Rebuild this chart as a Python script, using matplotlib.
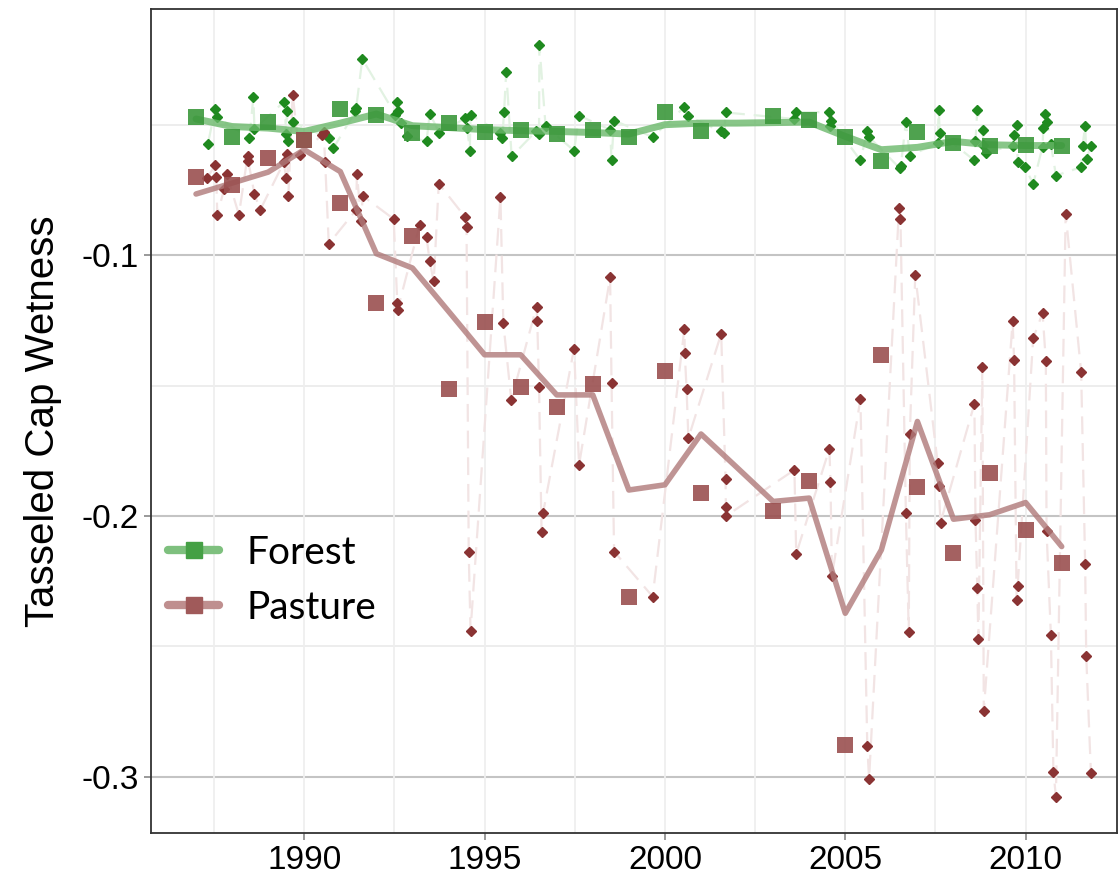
import numpy as np
import matplotlib
matplotlib.use("Agg")
import matplotlib.pyplot as plt
from matplotlib.lines import Line2D

plt.rcParams['axes.unicode_minus'] = False
plt.rcParams['font.family'] = ['Liberation Sans', 'DejaVu Sans']

# annual values
years = np.arange(1987, 2012)
forest_mean = [-0.0469, -0.0547, -0.0486, -0.0556, -0.0438, -0.0462, -0.0528, -0.0490, -0.0526,
               -0.0517, -0.0533, -0.0517, -0.0545, -0.0451, -0.0524, np.nan, -0.0464, -0.0479,
               -0.0547, -0.0636, -0.0526, -0.0569, -0.0578, -0.0575, -0.0578]
forest_smooth = [-0.0476, -0.0505, -0.0511, -0.0524, -0.0492, -0.0457, -0.0502, -0.0509, -0.0517,
                 -0.0521, -0.0524, -0.0528, -0.0534, -0.0498, -0.0492, -0.0492, -0.0490, -0.0488,
                 -0.0543, -0.0594, -0.0585, -0.0562, -0.0575, -0.0578, -0.0578]
pasture_mean = [-0.0699, -0.0729, -0.0626, -0.0556, -0.0797, -0.1183, -0.0927, -0.1513, -0.1257,
                -0.1503, -0.1583, -0.1493, -0.2309, -0.1445, -0.1912, np.nan, -0.1980, -0.1865,
                -0.2878, -0.1381, -0.1887, -0.2142, -0.1833, -0.2053, -0.2181]
pasture_smooth = [-0.0764, -0.0722, -0.0680, -0.0594, -0.0678, -0.0993, -0.1048, -0.1214, -0.1381,
                  -0.1381, -0.1535, -0.1535, -0.1900, -0.1880, -0.1685, -0.1814, -0.1944, -0.1931,
                  -0.2373, -0.2130, -0.1637, -0.2012, -0.1995, -0.1948, -0.2117]

# single scenes
forest_t = [1987.33, 1987.53, 1987.57, 1988.48, 1988.59, 1988.62, 1989.45, 1989.50, 1989.52, 1989.56,
            1989.68, 1990.68, 1990.81, 1991.42, 1991.44, 1991.61, 1992.53, 1992.58, 1992.59, 1992.69,
            1992.85, 1993.39, 1993.48, 1993.75, 1994.47, 1994.52, 1994.59, 1994.61, 1995.44, 1995.49,
            1995.54, 1995.60, 1995.75, 1996.42, 1996.51, 1996.52, 1996.69, 1997.48, 1997.62, 1998.48,
            1998.52, 1998.59, 1999.66, 2000.54, 2000.65, 2001.56, 2001.65, 2001.68, 2003.59, 2003.64,
            2004.56, 2004.59, 2004.61, 2005.42, 2005.61, 2005.66, 2006.51, 2006.54, 2006.68, 2006.79,
            2007.56, 2007.59, 2007.62, 2008.58, 2008.61, 2008.66, 2008.81, 2008.83, 2008.89, 2009.64,
            2009.68, 2009.75, 2009.78, 2009.98, 2010.21, 2010.47, 2010.49, 2010.54, 2010.60, 2010.70,
            2010.84, 2011.54, 2011.58, 2011.65, 2011.69, 2011.81]
forest_v = [-0.0571, -0.0438, -0.0469, -0.0549, -0.0393, -0.0514, -0.0409, -0.0534, -0.0447, -0.0562,
            -0.0488, -0.0549, -0.0588, -0.0447, -0.0434, -0.0246, -0.0460, -0.0409, -0.0447, -0.0492,
            -0.0543, -0.0562, -0.0456, -0.0530, -0.0473, -0.0511, -0.0598, -0.0460, -0.0528, -0.0549,
            -0.0451, -0.0294, -0.0620, -0.0524, -0.0535, -0.0194, -0.0502, -0.0598, -0.0463, -0.0517,
            -0.0635, -0.0482, -0.0545, -0.0430, -0.0466, -0.0524, -0.0530, -0.0451, -0.0476, -0.0450,
            -0.0450, -0.0502, -0.0482, -0.0635, -0.0524, -0.0545, -0.0665, -0.0656, -0.0488, -0.0617,
            -0.0569, -0.0441, -0.0530, -0.0635, -0.0562, -0.0441, -0.0517, -0.0575, -0.0605, -0.0578,
            -0.0539, -0.0498, -0.0643, -0.0661, -0.0725, -0.0582, -0.0509, -0.0456, -0.0488, -0.0571,
            -0.0693, -0.0661, -0.0578, -0.0502, -0.0630, -0.0578]

pasture_t = [1987.31, 1987.53, 1987.56, 1987.59, 1987.78, 1987.85, 1988.19, 1988.43, 1988.45, 1988.62,
             1988.78, 1989.44, 1989.49, 1989.52, 1989.56, 1989.68, 1989.87, 1990.50, 1990.54, 1990.58,
             1990.68, 1991.44, 1991.46, 1991.58, 1991.62, 1992.48, 1992.58, 1992.59, 1993.20, 1993.39,
             1993.48, 1993.59, 1993.73, 1994.47, 1994.50, 1994.56, 1994.61, 1995.44, 1995.52, 1995.74,
             1996.44, 1996.46, 1996.51, 1996.58, 1996.62, 1997.48, 1997.62, 1998.48, 1998.52, 1998.59,
             1999.66, 2000.54, 2000.55, 2000.60, 2000.65, 2001.56, 2001.68, 2001.69, 2001.70, 2003.59,
             2003.64, 2004.56, 2004.59, 2004.63, 2005.42, 2005.61, 2005.66, 2006.49, 2006.53, 2006.68,
             2006.76, 2006.79, 2006.94, 2007.56, 2007.59, 2007.64, 2008.58, 2008.61, 2008.66, 2008.69,
             2008.80, 2008.84, 2009.64, 2009.68, 2009.75, 2009.78, 2010.21, 2010.47, 2010.56, 2010.58,
             2010.70, 2010.77, 2010.84, 2011.11, 2011.54, 2011.65, 2011.68, 2011.81]
pasture_v = [-0.0703, -0.0652, -0.0697, -0.0844, -0.0745, -0.0686, -0.0844, -0.0617, -0.0639, -0.0764,
             -0.0825, -0.0641, -0.0703, -0.0610, -0.0771, -0.0383, -0.0613, -0.0537, -0.0525, -0.0641,
             -0.0955, -0.0825, -0.0686, -0.0869, -0.0771, -0.0860, -0.1183, -0.1208, -0.0882, -0.0929,
             -0.1023, -0.1099, -0.0724, -0.0854, -0.0889, -0.2136, -0.2441, -0.0777, -0.1260, -0.1554,
             -0.1196, -0.1250, -0.1505, -0.2063, -0.1989, -0.1358, -0.1803, -0.1084, -0.1490, -0.2136,
             -0.2309, -0.1281, -0.1375, -0.1512, -0.1701, -0.1300, -0.1857, -0.1967, -0.1999, -0.1823,
             -0.2145, -0.1742, -0.1868, -0.2230, -0.1551, -0.2881, -0.3009, -0.0818, -0.0860, -0.1989,
             -0.2446, -0.1684, -0.1075, -0.1795, -0.1884, -0.2025, -0.1569, -0.2015, -0.2277, -0.2471,
             -0.1428, -0.2747, -0.1253, -0.1400, -0.2324, -0.2267, -0.1317, -0.1221, -0.1405, -0.2056,
             -0.2456, -0.2981, -0.3077, -0.0839, -0.1449, -0.2183, -0.2536, -0.2987]

fig = plt.figure(figsize=(11.18, 8.74), dpi=100)
ax = fig.add_axes([0.135, 0.047, 0.864, 0.943])

# grid
for y in [-0.05, -0.15, -0.25]:
    ax.axhline(y, color='#ececec', lw=1.3, zorder=0)
for y in [-0.1, -0.2, -0.3]:
    ax.axhline(y, color='#c4c4c4', lw=1.5, zorder=0)
for x in np.arange(1987.5, 2012, 2.5):
    ax.axvline(x, color='#efefef', lw=1.3, zorder=0)

# single scene series
ax.plot(forest_t, forest_v, color='#e2f2e2', lw=1.6, ls=(0, (8, 4)), zorder=1)
ax.plot(pasture_t, pasture_v, color='#f2e4e4', lw=1.6, ls=(0, (8, 4)), zorder=1)
ax.plot(forest_t, forest_v, 'D', color='#1f8a1f', ms=5, zorder=3)
ax.plot(pasture_t, pasture_v, 'D', color='#8a3333', ms=5, zorder=3)

# smoothed trend and annual means
ax.plot(years, forest_smooth, color='#6ab86a', lw=5, alpha=0.8, solid_capstyle='round', zorder=4)
ax.plot(years, pasture_smooth, color='#b07a7a', lw=4, alpha=0.8, solid_capstyle='round', zorder=4)
ax.plot(years, forest_mean, 's', color='#3c983c', alpha=0.9, ms=12, mew=0, zorder=5)
ax.plot(years, pasture_mean, 's', color='#9a5050', alpha=0.9, ms=12, mew=0, zorder=5)

ax.set_xlim(1985.75, 2012.53)
ax.set_ylim(-0.3216, -0.0053)
ax.set_xticks([1990, 1995, 2000, 2005, 2010])
ax.set_yticks([-0.1, -0.2, -0.3])
ax.set_yticklabels(['-0.1', '-0.2', '-0.3'])
ax.tick_params(axis='both', colors='#888888', labelcolor='black', labelsize=24, length=5, width=1.2)
for s in ax.spines.values():
    s.set_color('#333333')
    s.set_linewidth(1.3)
ax.set_ylabel('Tasseled Cap Wetness', fontsize=29, labelpad=14)

handles = [Line2D([], [], color='#7ec07e', lw=6, marker='s', ms=12, mfc='#45a045', mec='#45a045',
                  solid_capstyle='round'),
           Line2D([], [], color='#bf8f8f', lw=6, marker='s', ms=12, mfc='#a05a5a', mec='#a05a5a',
                  solid_capstyle='round')]
ax.legend(handles, ['Forest', 'Pasture'], loc='upper left', bbox_to_anchor=(0.018, 0.362),
          frameon=False, prop={'family': 'Lato', 'size': 28}, handlelength=1.3,
          handletextpad=0.7, labelspacing=0.5, borderpad=0, borderaxespad=0)

fig.savefig('out.png', dpi=100)
